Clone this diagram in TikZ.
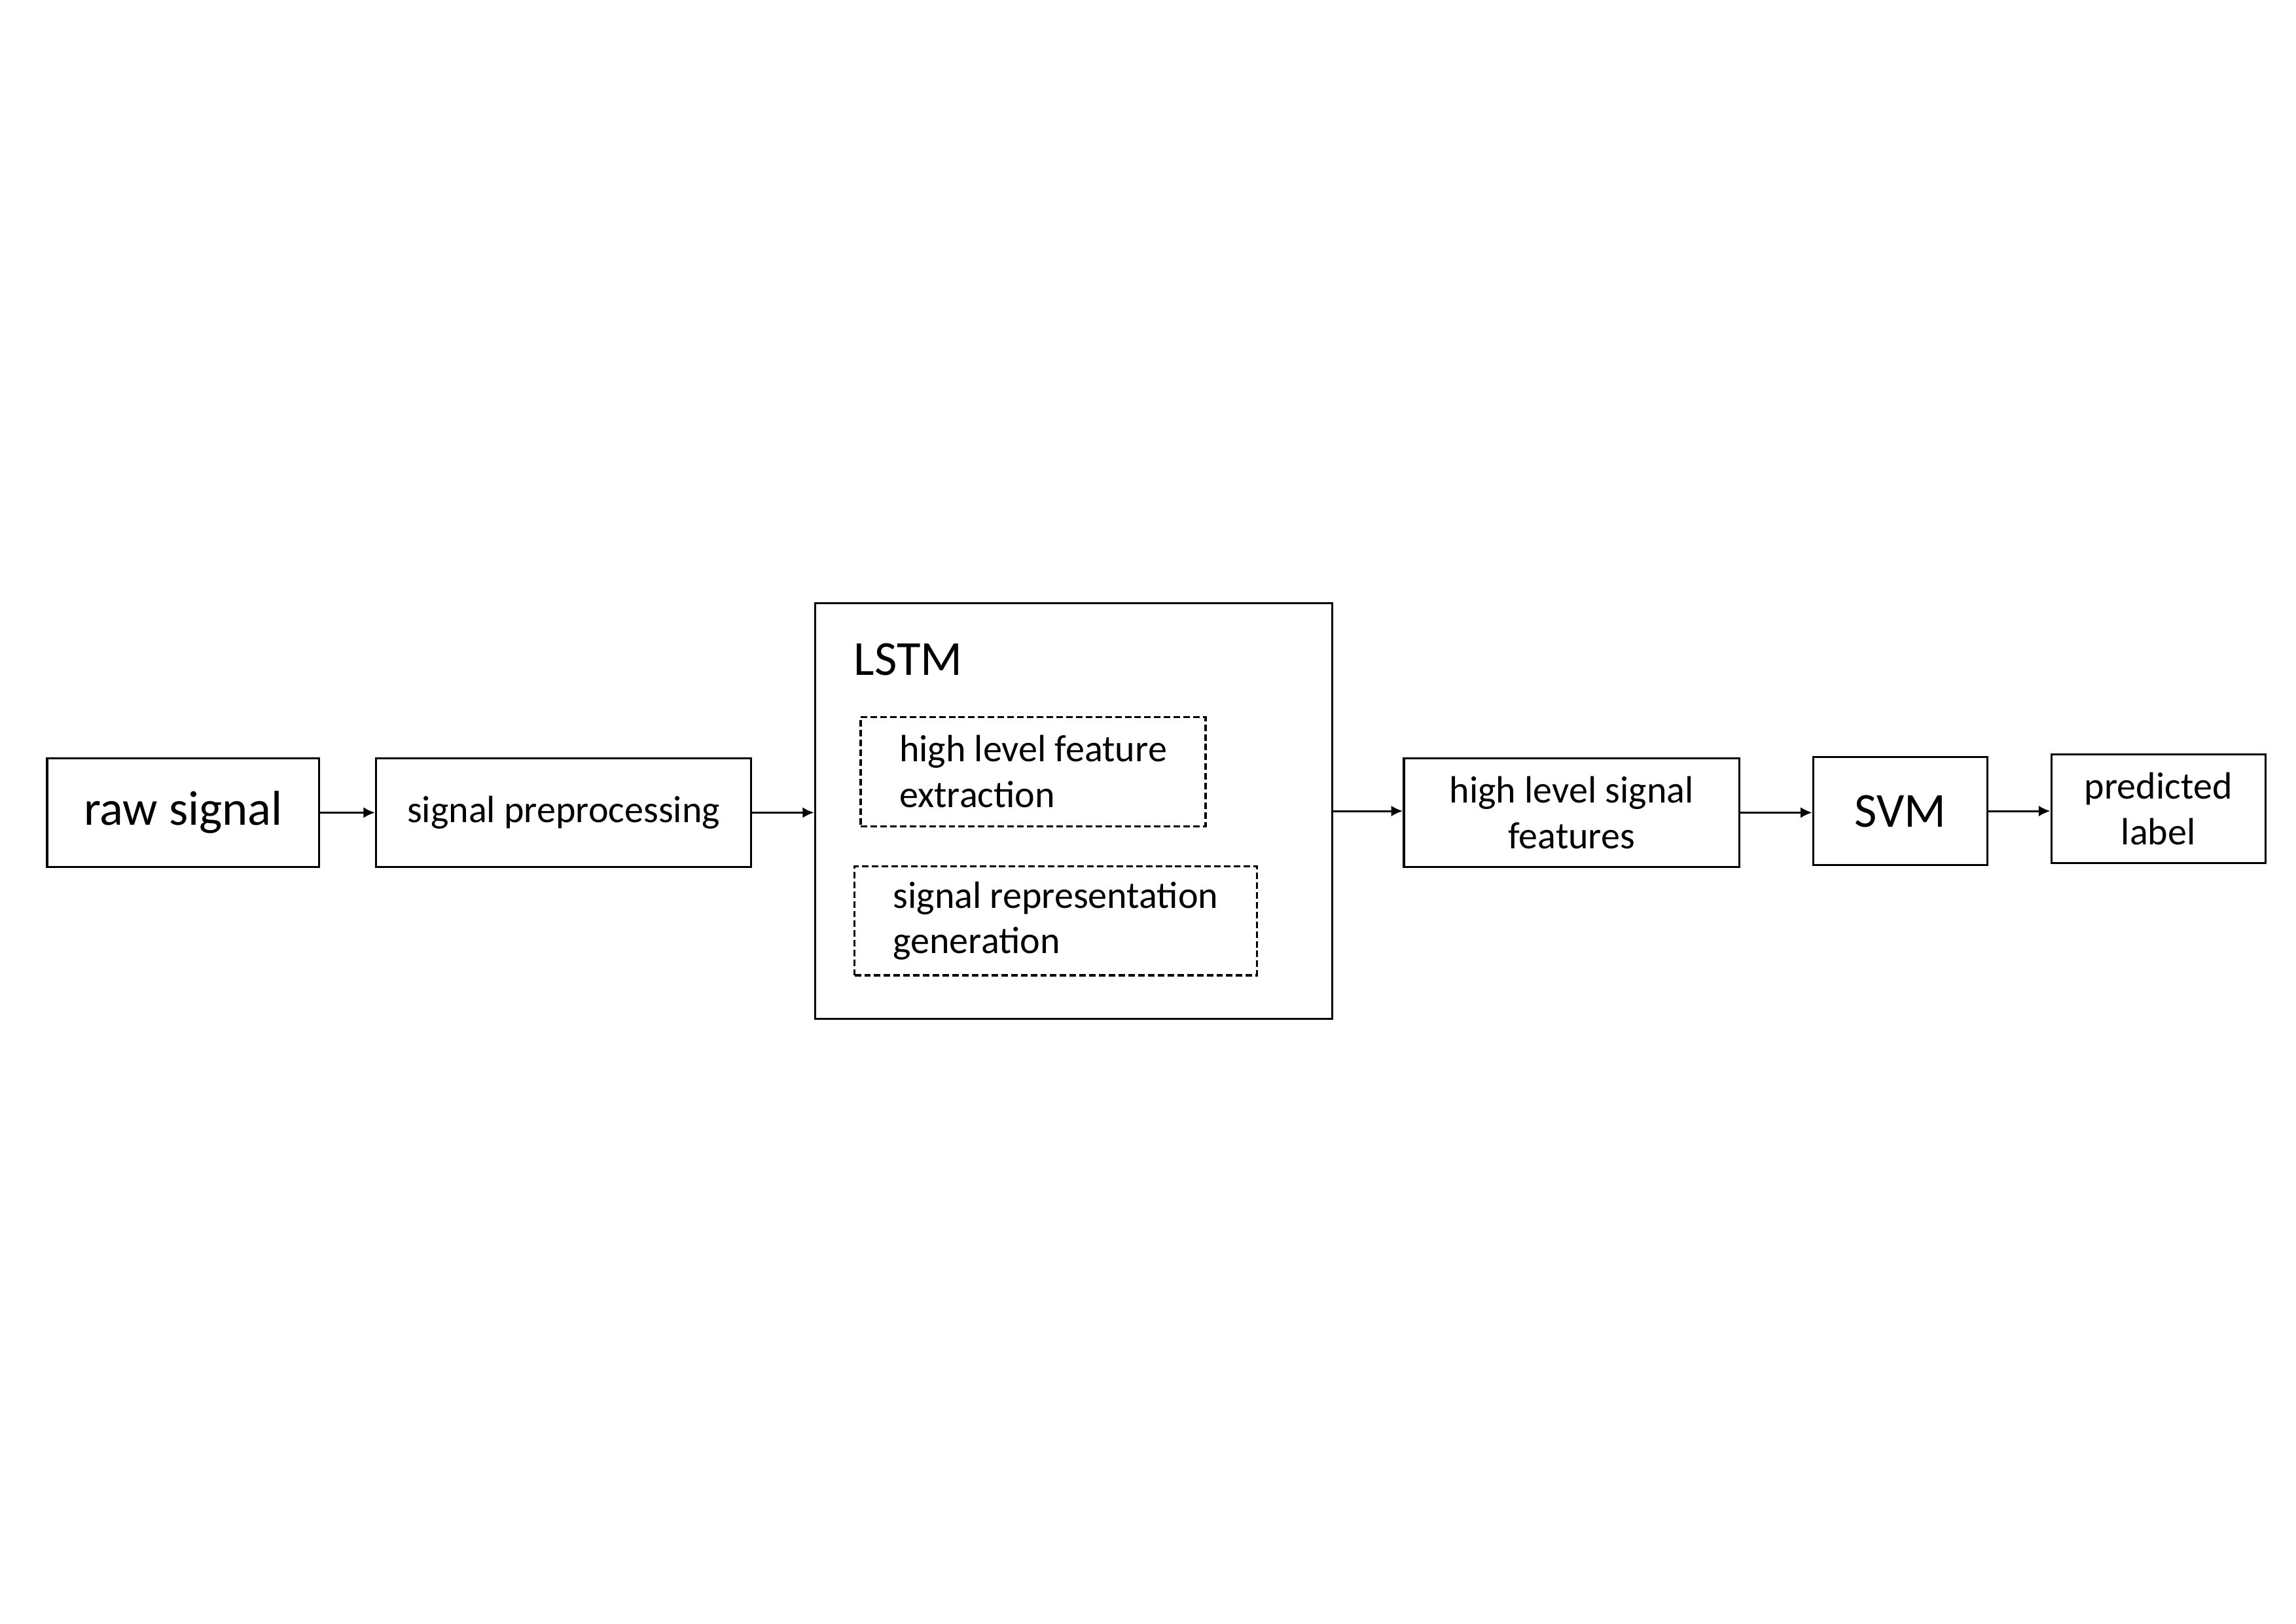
\documentclass[tikz,border=0pt]{standalone}
\usepackage{fontspec}
\setmainfont{Carlito}
\usetikzlibrary{arrows.meta}

\begin{document}
\begin{tikzpicture}[
  box/.style={draw,line width=0.75pt,align=center,font=\fontsize{14}{16.8}\selectfont,minimum height=1.4cm,inner sep=0pt},
  subbox/.style={draw,line width=0.75pt,dash pattern=on 2.4pt off 1.2pt,align=left,font=\fontsize{14}{16.8}\selectfont,minimum height=1.41cm,inner xsep=0.5cm,inner ysep=0pt,anchor=west},
  big/.style={font=\fontsize{18}{21.6}\selectfont},
  flow/.style={-{Latex[length=1.5mm,width=1.4mm]},line width=0.75pt}
]
\useasboundingbox (0,0) rectangle (29.7,-21);
% pipeline boxes
\node[box,big,minimum width=3.52cm] (raw) at (2.37,-10.51) {raw signal};
\node[box,minimum width=4.85cm] (prep) at (7.29,-10.51) {signal preprocessing};
\node[box,minimum width=6.69cm,minimum height=5.38cm] (lstm) at (13.89,-10.49) {};
\node[big,anchor=base west,inner sep=0pt] (lstmlabel) at (11.04,-8.73) {LSTM};
\node[subbox] (hlfe) at (11.12,-9.98) {high level feature\\extraction};
\node[subbox] (srg) at (11.04,-11.91) {signal representation\\generation};
\node[box,minimum width=4.34cm] (hlsf) at (20.33,-10.51) {high level signal\\features};
\node[box,big,minimum width=2.25cm] (svm) at (24.58,-10.49) {SVM};
\node[box,minimum width=2.77cm] (pred) at (27.92,-10.46) {predicted\\label};
% arrows
\draw[flow] (raw) -- (prep);
\draw[flow] (prep.east) -- (prep.east -| lstm.west);
\draw[flow] (lstm.east) -- (lstm.east -| hlsf.west);
\draw[flow] (hlsf.east) -- (hlsf.east -| svm.west);
\draw[flow] (svm.east) -- (svm.east -| pred.west);
\end{tikzpicture}
\end{document}
